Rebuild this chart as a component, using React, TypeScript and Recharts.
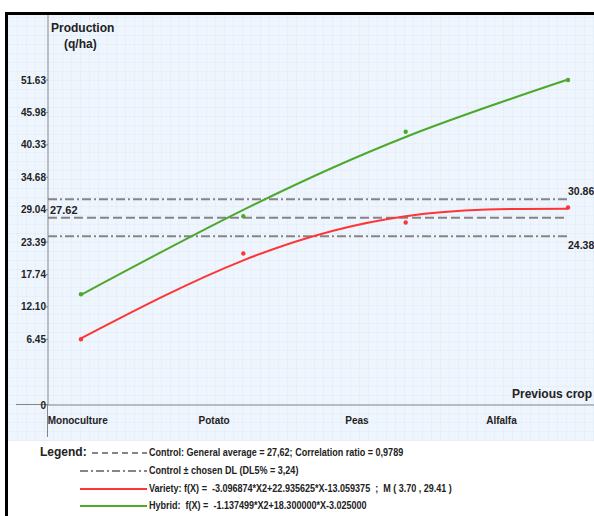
import React from 'react';
import { ComposedChart, Line, Scatter, XAxis, YAxis, ReferenceLine } from 'recharts';

// previous crop (X = 1..4)
const CROPS = ['Monoculture', 'Potato', 'Peas', 'Alfalfa'];
const CROP_X = [1, 2, 3, 4];

// measured production (q/ha)
const VARIETY_OBS = [6.45, 21.4, 26.8, 29.4];
const HYBRID_OBS = [14.3, 27.9, 42.6, 51.63];

// fitted curves
const VARIETY_FIT = [6.6, 20.2, 27.9, 29.2];
const HYBRID_FIT = [14.2, 29.0, 41.7, 51.7];

const Y_TICKS = [6.45, 12.1, 17.74, 23.39, 29.04, 34.68, 40.33, 45.98, 51.63];

const CONTROL_AVG = 27.62;
const CONTROL_UP = 30.86;
const CONTROL_LOW = 24.38;

// broken axis: bottom of the y axis is labelled 0
const Y_BREAK = -5;
const Y_MAX = 62.95;
const X_MIN = 0.797;
const X_MAX = 4.16;
// where the category labels sit (they are offset from the points in the original)
const LABEL_X = [0.98, 1.82, 2.7, 3.59];

const RED = '#ff3434';
const GREEN = '#4ea82c';
const GRAY = '#858585';
const FONT = '"Liberation Sans", Arial, sans-serif';

const toPts = (vals: number[]) => vals.map((v, i) => ({ x: CROP_X[i], y: v }));

const varietyFit = toPts(VARIETY_FIT);
const hybridFit = toPts(HYBRID_FIT);
const varietyObs = toPts(VARIETY_OBS);
const hybridObs = toPts(HYBRID_OBS);

const sideLabel = (text: string, where: 'left' | 'rightTop' | 'rightBottom') => (props: any) => {
  const vb = props.viewBox || {};
  let x = vb.x + 2;
  let y = vb.y - 4;
  let size = 11;
  if (where === 'rightTop') { x = vb.x + vb.width; y = vb.y - 4; size = 10.5; }
  if (where === 'rightBottom') { x = vb.x + vb.width; y = vb.y + 13; size = 10.5; }
  return (
    <text x={x} y={y} fontSize={size} fontWeight="bold" fill="#222" fontFamily={FONT}>
      {text}
    </text>
  );
};

const LegendRow = ({ y, x1, dash, color, children }: any) => (
  <div style={{ position: 'absolute', left: 0, top: y - 8, height: 16, width: 594 }}>
    <svg width={150} height={16} style={{ position: 'absolute', left: 0, top: 0 }}>
      <line x1={x1} x2={147} y1={8} y2={8} stroke={color} strokeWidth={2} strokeDasharray={dash} />
    </svg>
    <span
      style={{
        position: 'absolute', left: 149, top: 1, fontSize: 11, fontWeight: 'bold', fontFamily: FONT,
        color: '#222', whiteSpace: 'pre', transform: 'scaleX(0.82)', transformOrigin: 'left center',
      }}
    >
      {children}
    </span>
  </div>
);

export default function App() {
  return (
    <div style={{ position: 'absolute', left: 0, top: 0, width: 594, height: 516, background: '#fff', overflow: 'hidden' }}>
      {/* frame */}
      <div style={{ position: 'absolute', left: 5, top: 12, width: 600, height: 520, borderLeft: '3px solid #000', borderTop: '3px solid #000', boxSizing: 'border-box' }} />
      {/* plot panel */}
      <div
        style={{
          position: 'absolute', left: 8, top: 15, width: 586, height: 426,
          backgroundColor: '#eff5fd',
          backgroundImage:
            'repeating-linear-gradient(0deg, rgba(215,228,246,0.35) 0 1px, transparent 1px 9px), repeating-linear-gradient(90deg, rgba(215,228,246,0.35) 0 1px, transparent 1px 9px)',
        }}
      />
      {/* axis extensions past the break */}
      <div style={{ position: 'absolute', left: 16, top: 404, width: 32, height: 1, background: GRAY }} />
      <div style={{ position: 'absolute', left: 47, top: 405, width: 1, height: 32, background: GRAY }} />

      <div style={{ position: 'absolute', left: 0, top: 0 }}>
        <ComposedChart width={594} height={516} margin={{ top: 15, right: 0, bottom: 78, left: 0 }}>
          <XAxis
            type="number"
            dataKey="x"
            domain={[X_MIN, X_MAX]}
            allowDataOverflow
            ticks={LABEL_X}
            interval={0}
            tickFormatter={(v: number) => CROPS[LABEL_X.indexOf(v)] ?? ''}
            tick={{ fontSize: 10, fontWeight: 'bold', fill: '#222', fontFamily: FONT }}
            tickLine={false}
            tickMargin={6}
            height={33}
            axisLine={{ stroke: GRAY }}
          />
          <YAxis
            type="number"
            dataKey="y"
            domain={[Y_BREAK, Y_MAX]}
            allowDataOverflow
            ticks={[Y_BREAK, ...Y_TICKS]}
            interval={0}
            tickFormatter={(v: number) => (v === Y_BREAK ? '0' : v.toFixed(2))}
            tick={{ fontSize: 10, fontWeight: 'bold', fill: '#222', fontFamily: FONT }}
            tickSize={2}
            tickMargin={0}
            tickLine={{ stroke: GRAY }}
            width={48}
            axisLine={{ stroke: GRAY }}
          />
          <ReferenceLine
            segment={[{ x: X_MIN, y: CONTROL_UP }, { x: 4, y: CONTROL_UP }]}
            stroke={GRAY}
            strokeWidth={2}
            strokeDasharray="9 3 2 3"
            label={sideLabel(CONTROL_UP.toFixed(2), 'rightTop')}
          />
          <ReferenceLine
            segment={[{ x: X_MIN, y: CONTROL_AVG }, { x: 4, y: CONTROL_AVG }]}
            stroke={GRAY}
            strokeWidth={2}
            strokeDasharray="9 4"
            label={sideLabel(CONTROL_AVG.toFixed(2), 'left')}
          />
          <ReferenceLine
            segment={[{ x: X_MIN, y: CONTROL_LOW }, { x: 4, y: CONTROL_LOW }]}
            stroke={GRAY}
            strokeWidth={2}
            strokeDasharray="9 3 2 3"
            label={sideLabel(CONTROL_LOW.toFixed(2), 'rightBottom')}
          />
          <Line data={hybridFit} dataKey="y" type="natural" stroke={GREEN} strokeWidth={2} dot={false} isAnimationActive={false} />
          <Line data={varietyFit} dataKey="y" type="natural" stroke={RED} strokeWidth={2} dot={false} isAnimationActive={false} />
          <Scatter data={hybridObs} dataKey="y" fill={GREEN} shape={(p: any) => <circle cx={p.cx} cy={p.cy} r={2.2} fill={GREEN} />} isAnimationActive={false} />
          <Scatter data={varietyObs} dataKey="y" fill={RED} shape={(p: any) => <circle cx={p.cx} cy={p.cy} r={2.2} fill={RED} />} isAnimationActive={false} />
        </ComposedChart>
      </div>

      {/* axis titles */}
      <div style={{ position: 'absolute', left: 51, top: 20, fontSize: 12, fontWeight: 'bold', fontFamily: FONT, color: '#222', lineHeight: '16px' }}>
        Production
        <br />
        <span style={{ marginLeft: 13 }}>(q/ha)</span>
      </div>
      <div style={{ position: 'absolute', left: 512, top: 387, fontSize: 12, fontWeight: 'bold', fontFamily: FONT, color: '#222', whiteSpace: 'nowrap' }}>
        Previous crop
      </div>

      {/* legend */}
      <div style={{ position: 'absolute', left: 40, top: 445, fontSize: 12, fontWeight: 'bold', fontFamily: FONT, color: '#222' }}>Legend:</div>
      <LegendRow y={453} x1={92} dash="6 4" color={GRAY}>
        Control: General average = 27,62; Correlation ratio = 0,9789
      </LegendRow>
      <LegendRow y={471} x1={80} dash="8 3 2 3" color={GRAY}>
        Control ± chosen DL (DL5% = 3,24)
      </LegendRow>
      <LegendRow y={489} x1={80} color={RED}>
        {'Variety: f(X) =  -3.096874*X2+22.935625*X-13.059375  ;  M ( 3.70 , 29.41 )'}
      </LegendRow>
      <LegendRow y={506} x1={80} color={GREEN}>
        {'Hybrid:  f(X) =  -1.137499*X2+18.300000*X-3.025000'}
      </LegendRow>
    </div>
  );
}
